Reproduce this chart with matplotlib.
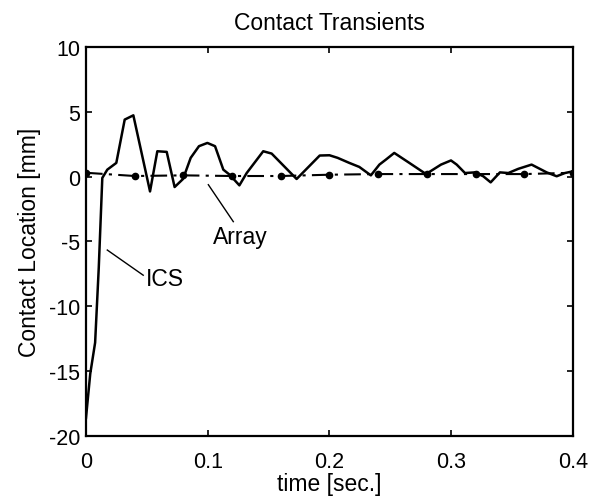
import matplotlib
matplotlib.use("Agg")
import matplotlib.pyplot as plt

plt.rcParams['font.family'] = ['Liberation Sans', 'DejaVu Sans']
plt.rcParams['axes.unicode_minus'] = False

# ICS contact location estimate (time [s], location [mm])
ics_t = [0, 0.0035, 0.0075, 0.0105, 0.0134, 0.0175, 0.0249, 0.0318, 0.0389, 0.0526,
         0.0586, 0.0663, 0.0728, 0.0797, 0.086, 0.0928, 0.0997, 0.106, 0.1128, 0.118,
         0.126, 0.132, 0.1456, 0.1525, 0.173, 0.192, 0.2, 0.2067, 0.2163, 0.2245,
         0.234, 0.241, 0.2464, 0.2532, 0.2656, 0.2793, 0.2916, 0.2998, 0.3045, 0.3113,
         0.3195, 0.3263, 0.3324, 0.34, 0.3469, 0.355, 0.366, 0.3784, 0.3866, 0.3934, 0.4]
ics_v = [-18.6, -15.2, -12.8, -7.0, -0.1, 0.54, 1.06, 4.4, 4.73, -1.14,
         1.96, 1.91, -0.8, -0.18, 1.45, 2.35, 2.6, 2.35, 0.54, 0.15,
         -0.67, 0.28, 1.96, 1.78, -0.18, 1.63, 1.65, 1.45, 1.06, 0.75,
         0.1, 0.93, 1.32, 1.83, 1.06, 0.2, 0.93, 1.25, 0.93, 0.28,
         0.33, 0.03, -0.44, 0.33, 0.28, 0.6, 0.93, 0.33, 0.03, 0.28, 0.41]

# Array sensor contact location
array_t = [0, 0.04, 0.08, 0.12, 0.16, 0.2, 0.24, 0.28, 0.32, 0.36, 0.4]
array_v = [0.3, 0.05, 0.1, 0.05, 0.05, 0.15, 0.2, 0.2, 0.2, 0.2, 0.3]

xticks = [0, 0.1, 0.2, 0.3, 0.4]
xtick_labels = ['0', '0.1', '0.2', '0.3', '0.4']
yticks = [-20, -15, -10, -5, 0, 5, 10]

fig = plt.figure(figsize=(6.03, 5.02), dpi=100)
ax = fig.add_axes([0.1426, 0.1295, 0.8076, 0.7749])

ax.plot(ics_t, ics_v, color='black', lw=1.8)
ax.plot(array_t, array_v, color='black', lw=1.5, linestyle=(0, (8, 3, 1.5, 3)),
        marker='o', markersize=4.5)

ax.set_xlim(0, 0.4)
ax.set_ylim(-20, 10)
ax.set_xticks(xticks)
ax.set_xticklabels(xtick_labels)
ax.set_yticks(yticks)
ax.tick_params(direction='in', top=True, right=True, length=4, width=1.2,
               labelsize=15.5)
ax.tick_params(axis='x', pad=11)
ax.tick_params(axis='y', pad=4)
for s in ax.spines.values():
    s.set_linewidth(1.6)

ax.set_title('Contact Transients', fontsize=16.5, pad=13)
ax.set_xlabel('time [sec.]', fontsize=16.5, labelpad=0)
ax.set_ylabel('Contact Location [mm]', fontsize=16.5, labelpad=6)

ax.plot([0.1005, 0.121], [-0.62, -3.47], color='black', lw=1.0)
ax.text(0.1046, -5.14, 'Array', fontsize=16.5, va='baseline', ha='left')
ax.plot([0.0175, 0.047], [-5.66, -7.6], color='black', lw=1.0)
ax.text(0.0493, -8.37, 'ICS', fontsize=16.5, va='baseline', ha='left')

fig.savefig('out.png', dpi=100)
